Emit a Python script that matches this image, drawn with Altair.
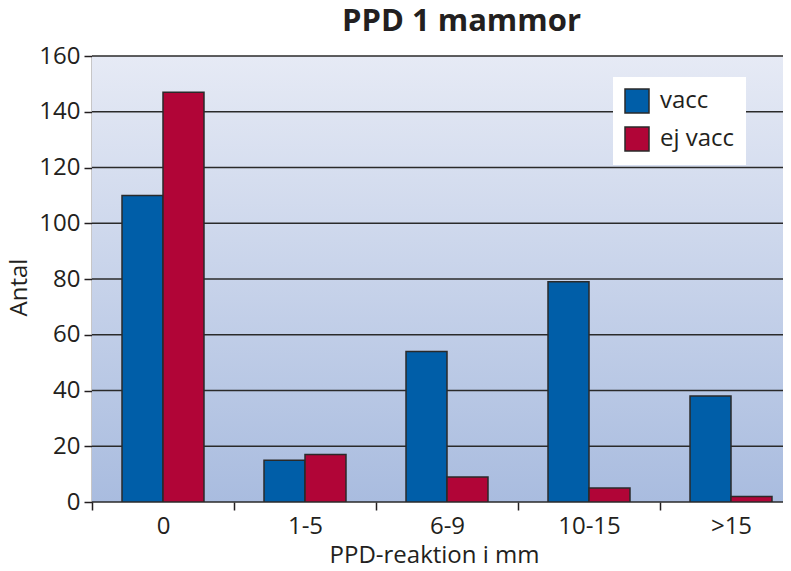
import altair as alt
import pandas as pd

categories = ["0", "1-5", "6-9", "10-15", ">15"]
series = ["vacc", "ej vacc"]
vacc = [110, 15, 54, 79, 38]
ej_vacc = [147, 17, 9, 5, 2]
y_ticks = [0, 20, 40, 60, 80, 100, 120, 140, 160]

rows = []
for c, v, e in zip(categories, vacc, ej_vacc):
    rows.append({"cat": c, "serie": "vacc", "antal": v})
    rows.append({"cat": c, "serie": "ej vacc", "antal": e})
df = pd.DataFrame(rows)
grid_df = pd.DataFrame({"antal": y_ticks})

FONT = "Open Sans"
W, H = 691, 446
TXT = "#231f20"

yscale = alt.Scale(domain=[0, 160], nice=False)

bg = alt.Chart(pd.DataFrame({"a": [1]})).mark_rect(
    color=alt.LinearGradient(
        gradient="linear", x1=0, y1=0, x2=0, y2=1,
        stops=[alt.GradientStop(color="#e6eaf5", offset=0),
               alt.GradientStop(color="#a9bcdf", offset=1)]
    )
).encode(x=alt.value(0), x2=alt.value(W), y=alt.value(0), y2=alt.value(H))

grid = alt.Chart(grid_df).mark_rule(color="#2a2a2a", strokeWidth=1.5).encode(
    y=alt.Y("antal:Q", scale=yscale),
    x=alt.value(0), x2=alt.value(W),
)

bars = alt.Chart(df).mark_bar(
    stroke="#2a2a2a", strokeWidth=1.5, clip=True
).encode(
    x=alt.X("cat:N", sort=categories, title="PPD-reaktion i mm",
            scale=alt.Scale(range=[0, 710], paddingInner=0, paddingOuter=0),
            axis=alt.Axis(tickBand="extent", labelAngle=0, grid=False, domain=False,
                          tickColor=TXT, tickWidth=1.5, tickSize=8,
                          labelFontSize=24, labelColor=TXT, labelFont=FONT,
                          labelPadding=4, titleFontSize=24, titleFont=FONT,
                          titleColor=TXT, titleFontWeight="normal",
                          titlePadding=5, titleX=342)),
    xOffset=alt.XOffset("serie:N", sort=series,
                        scale=alt.Scale(paddingInner=0, paddingOuter=0.732)),
    y=alt.Y("antal:Q", title="Antal", scale=yscale,
            axis=alt.Axis(values=y_ticks, grid=False,
                          domainColor=TXT, domainWidth=1.5,
                          tickColor=TXT, tickWidth=1.5, tickSize=8,
                          labelFontSize=24, labelColor=TXT, labelFont=FONT,
                          labelPadding=4, titleFontSize=24, titleFont=FONT,
                          titleColor=TXT, titleFontWeight="normal",
                          titlePadding=7, titleY=231)),
    color=alt.Color("serie:N", sort=series,
                    scale=alt.Scale(domain=series, range=["#005ea8", "#b10537"]),
                    legend=alt.Legend(title=None, orient="none", legendX=521, legendY=21,
                                      fillColor="white", padding=11,
                                      symbolType="square", symbolSize=576,
                                      symbolStrokeColor="#2a2a2a", symbolStrokeWidth=1.5,
                                      labelFontSize=24, labelFont=FONT, labelColor=TXT,
                                      rowPadding=8, labelOffset=10)),
)

chart = alt.layer(bg, grid, bars).properties(
    width=W, height=H,
    autosize=alt.AutoSizeParams(type="none"),
    padding={"left": 84, "top": 48, "right": 0, "bottom": 61},
    title=alt.Title("PPD 1 mammor", fontSize=31, font=FONT, fontWeight="bold",
                    color=TXT, anchor="middle", dx=24, offset=6),
).configure_view(stroke=None)

chart.save("out.html", embed_options={"renderer": "svg", "actions": False})
